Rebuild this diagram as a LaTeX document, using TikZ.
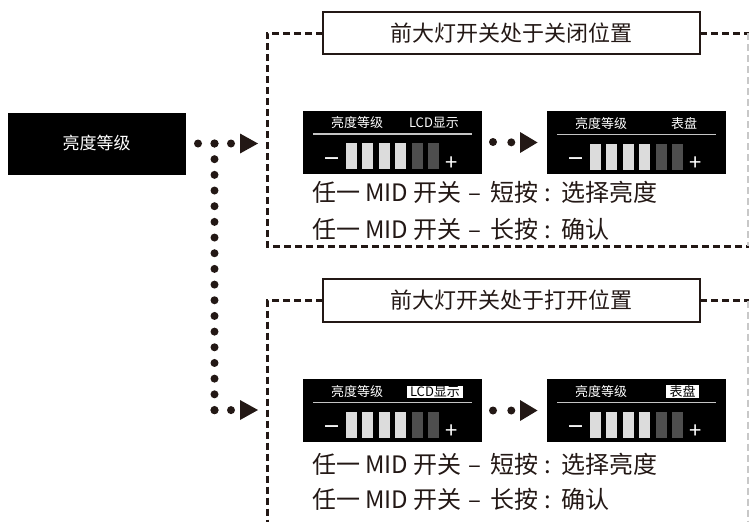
\documentclass[tikz,border=0pt]{standalone}
\usepackage{fontspec}
\setmainfont{Noto Sans CJK SC}
\usetikzlibrary{calc}
\definecolor{ink}{HTML}{231815}
\definecolor{barlight}{HTML}{DCDCDC}
\definecolor{bardark}{HTML}{4E4E4E}
\definecolor{rulegray}{HTML}{C4C4C4}
\definecolor{framegray}{HTML}{C8C8C8}
\tikzset{
  every node/.style={inner sep=0pt, outer sep=0pt},
  levelbox/.style={fill=black, minimum width=178pt, minimum height=62pt, text=white, font=\fontsize{17}{17}\selectfont},
  titlebox/.style={draw=ink, line width=1.5pt, fill=white, minimum width=377pt, minimum height=42pt, text=ink, font=\fontsize{22}{22}\selectfont},
  screen/.style={fill=black, minimum width=179pt, minimum height=63pt},
  hdr/.style={text=white, font=\fontsize{13}{13}\selectfont},
  hdrhi/.style={fill=white, text=black, font=\fontsize{13}{13}\selectfont, inner xsep=3.5pt, minimum height=12pt},
  pm/.style={text=white, font=\fontsize{22}{22}\selectfont},
  lcdbar/.style={minimum width=11pt, minimum height=26pt},
  body/.style={anchor=west, text=ink, font=\fontsize{24}{24}\selectfont},
  frame/.style={draw=ink, line width=3pt, dash pattern=on 7pt off 4pt},
  framelight/.style={draw=framegray, line width=1.5pt, dash pattern=on 7pt off 4pt},
  dotline/.style={draw=ink, line width=8pt, line cap=round, dash pattern=on 0pt off #1},
  dotline/.default=16.5pt,
}
\newcommand\mydash{\hspace{1pt}–\hspace{9pt}}
\newcommand\mycolon{\hspace{6pt}:\hspace{11pt}}
% #1 name, #2 x, #3 y, #4 right label, #5 label style, #6 label x offset
\newcommand\lcdscreen[6]{%
  \node[screen] (#1) at (#2,#3) {};
  \node[hdr] (#1-h1) at ($(#1)+(-35.5,-19)$) {亮度等级};
  \node[#5] (#1-h2) at ($(#1)+(#6,-19)$) {#4};
  \draw[draw=rulegray, line width=1.5pt] ($(#1)+(-79.5,-8)$) -- ($(#1)+(79.5,-8)$);
  \node[pm, font=\fontsize{27}{27}\selectfont] (#1-m) at ($(#1)+(-60.5,21)$) {−};
  \node[pm] (#1-p) at ($(#1)+(59.5,21.5)$) {+};
  \foreach \k/\col in {0/barlight,1/barlight,2/barlight,3/barlight,4/bardark,5/bardark}
    \node[lcdbar, fill=\col] (#1-b\k) at ($(#1)+(-41.25+16.5*\k,14)$) {};
}
\begin{document}
\begin{tikzpicture}[x=1pt, y=-1pt]
\fill[white] (0,0) rectangle (749,522);
\useasboundingbox (0,0) rectangle (749,522);

% left level box
\node[levelbox] (lvl) at (96.5,143.5) {亮度等级};

% title boxes
\node[titlebox] (t1) at (511.5,33) {前大灯开关处于关闭位置};
\node[titlebox, minimum height=43pt] (t2) at (511.5,300.5) {前大灯开关处于打开位置};

% frames
\coordinate (f1a) at (267,33);
\coordinate (f1b) at (267,246);
\coordinate (f1c) at (749,246);
\coordinate (f1d) at (749,33);
\coordinate (f1e) at (748,33);
\coordinate (f1f) at (748,246);
\draw[frame] (t1.west) -- (f1a) -- (f1b) -- (f1c);
\draw[frame] (t1.east) -- (f1d);
\draw[framelight] (f1e) -- (f1f);

\coordinate (f2a) at (267,300.5);
\coordinate (f2b) at (267,522);
\coordinate (f2d) at (749,300.5);
\coordinate (f2e) at (748,300.5);
\coordinate (f2f) at (748,522);
\draw[frame] (t2.west) -- (f2a) -- (f2b);
\draw[frame] (t2.east) -- (f2d);
\draw[framelight] (f2e) -- (f2f);

% screens
\lcdscreen{s1}{392.5}{142}{LCD显示}{hdr}{41.5}
\lcdscreen{s2}{636.5}{142.5}{表盘}{hdr}{47.5}
\lcdscreen{s3}{392.5}{410.5}{LCD显示}{hdrhi}{42.5}
\lcdscreen{s4}{636.5}{410.5}{表盘}{hdrhi}{46}

% body texts
\node[body] (x1) at (312,192) {任一 MID 开关 \mydash 短按\mycolon 选择亮度};
\node[body] (x2) at (312,229) {任一 MID 开关 \mydash 长按\mycolon 确认};
\node[body] (x3) at (312,464) {任一 MID 开关 \mydash 短按\mycolon 选择亮度};
\node[body] (x4) at (312,499) {任一 MID 开关 \mydash 长按\mycolon 确认};

% dotted connectors with triangle heads
\coordinate (a1) at (240,143.5);
\coordinate (a2) at (240,410);
\coordinate (a3) at (520,142.5);
\coordinate (a4) at (520,410.5);
\coordinate (br) at (214.5,143.5);
\coordinate (bk) at (214.5,410.3);
\foreach \a in {a1,a2}
  \fill[ink] (\a) ++(0,-10) -- ++(18,10) -- ++(-18,10) -- cycle;
\foreach \a in {a3,a4}
  \fill[ink] (\a) ++(0,-10.5) -- ++(17.5,10.5) -- ++(-17.5,10.5) -- cycle;

\draw[dotline] ($(lvl.east)+(12.5,0)$) -- (a1);
\draw[dotline=15.676pt] (br) -- (bk);
\draw[dotline] (bk) -- (a2);
\draw[dotline=18.3pt] ($(s1.east)+(11,0)$) -- (a3);
\draw[dotline=18.3pt] ($(s3.east)+(11,0)$) -- (a4);
\end{tikzpicture}
\end{document}
